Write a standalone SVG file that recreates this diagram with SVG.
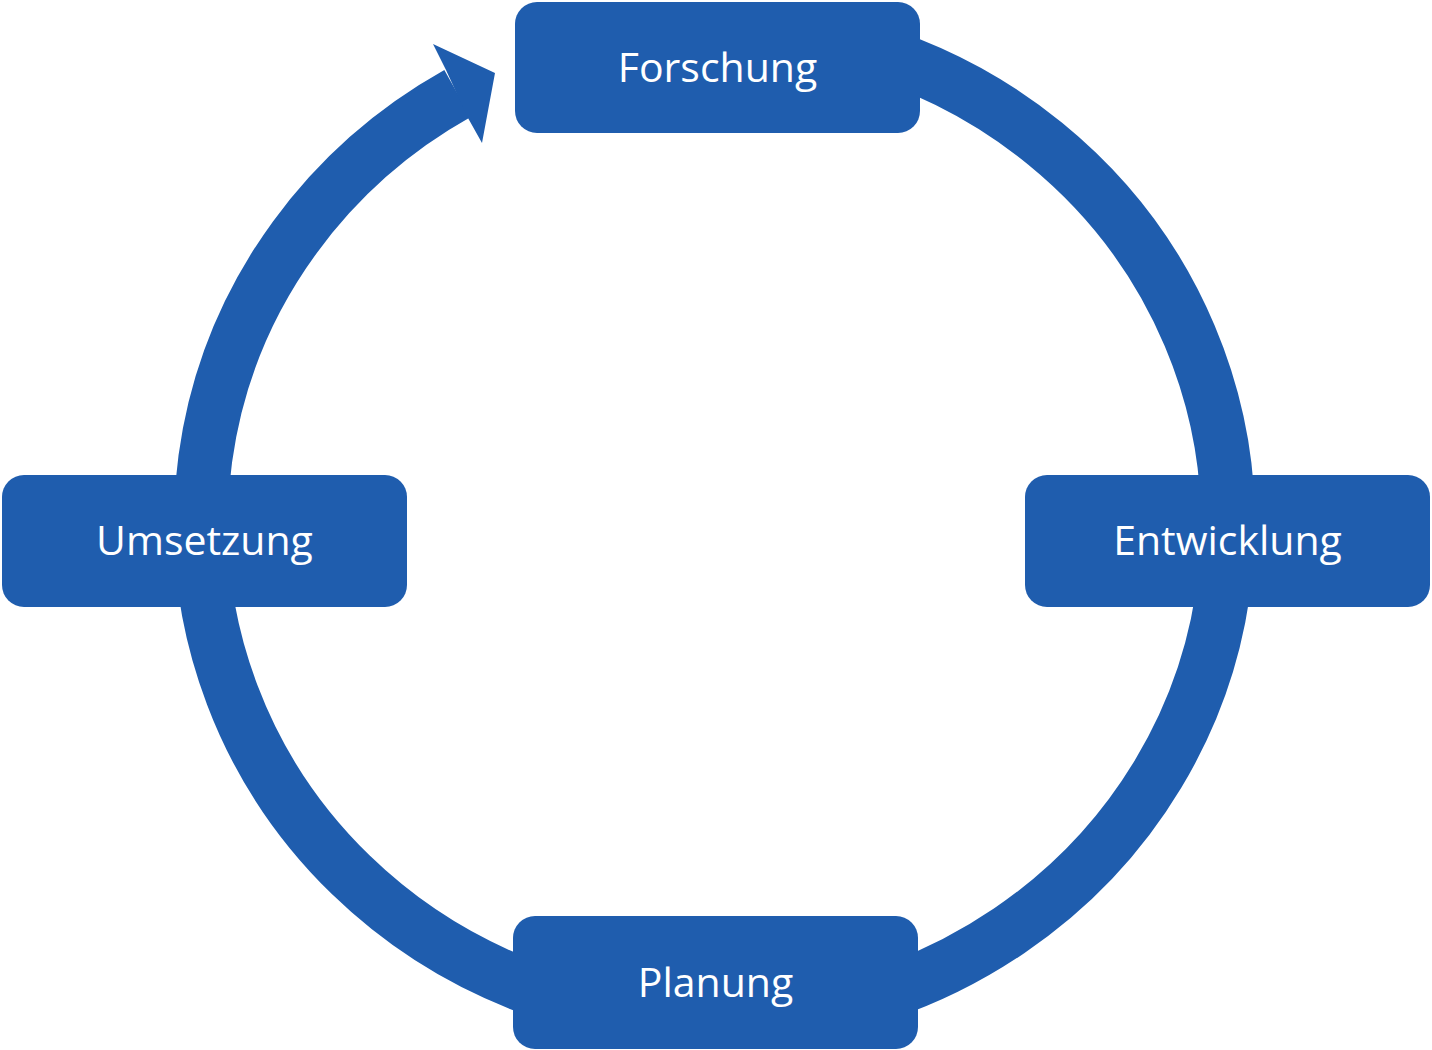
<svg xmlns="http://www.w3.org/2000/svg" width="1432" height="1050" viewBox="0 0 1432 1050">
  <style>
    .box { fill: #1F5DAE; }
    .label { fill: #FFFFFF; font-family: "Open Sans", "Noto Sans", "Liberation Sans", sans-serif; font-size: 41px; text-anchor: middle; }
    .ring { fill: none; stroke: #1F5DAE; stroke-width: 54; stroke-linecap: butt; }
    .head { fill: #1F5DAE; }
  </style>
  <rect width="1432" height="1050" fill="#FFFFFF"/>
  <g id="connectors">
    <path class="ring" d="M 850 44.5 A 513.5 497 0 1 1 457.5 93.5"/>
    <polygon class="head" points="433,44 495,73 482,143 468,118 446,70"/>
  </g>
  <g id="node-forschung">
    <rect class="box" x="515" y="2" width="405" height="131" rx="22" ry="22"/>
    <text class="label" x="717.5" y="82">Forschung</text>
  </g>
  <g id="node-entwicklung">
    <rect class="box" x="1025" y="475" width="405" height="132" rx="22" ry="22"/>
    <text class="label" x="1227.5" y="555">Entwicklung</text>
  </g>
  <g id="node-planung">
    <rect class="box" x="513" y="916" width="405" height="133" rx="22" ry="22"/>
    <text class="label" x="715.5" y="997">Planung</text>
  </g>
  <g id="node-umsetzung">
    <rect class="box" x="2" y="475" width="405" height="132" rx="22" ry="22"/>
    <text class="label" x="204.5" y="555">Umsetzung</text>
  </g>
</svg>
